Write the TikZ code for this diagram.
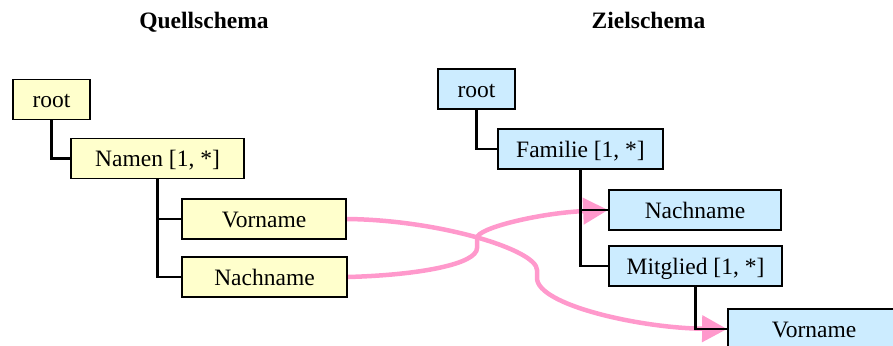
\documentclass[tikz,border=0pt]{standalone}
\usepackage{fontspec}
\setmainfont{Liberation Serif}
\usetikzlibrary{arrows.meta,backgrounds}
\definecolor{srcfill}{HTML}{FFFFCC}
\definecolor{tgtfill}{HTML}{CCECFF}
\definecolor{mappink}{HTML}{FF99CC}
\begin{document}
\begin{tikzpicture}[x=1pt,y=-1pt,
  box/.style={draw=black, line width=1.8pt, inner sep=0pt, minimum height=40pt,
    text height=16pt, text depth=0pt, font=\fontsize{23.5}{28}\selectfont},
  src/.style={box, fill=srcfill},
  tgt/.style={box, fill=tgtfill},
  tree/.style={draw=black, line width=2.2pt},
  map/.style={draw=mappink, line width=4.5pt, -{Triangle[length=25pt,width=26pt]}},
  title/.style={font=\bfseries\fontsize{23.5}{28}\selectfont, anchor=base}]
\useasboundingbox (0,0) rectangle (893,345);
\clip (0,0) rectangle (893,345);

\node[title] (qtitle) at (204,29) {Quellschema};
\node[title] (ztitle) at (648.5,29) {Zielschema};

\node[src, minimum width=77pt] (lroot) at (51.5,99.5) {root};
\node[src, minimum width=173pt] (lnamen) at (157.5,158.5) {Namen [1, *]};
\node[src, minimum width=164pt] (lvor) at (264,219) {Vorname};
\node[src, minimum width=165pt] (lnach) at (264.5,277) {Nachname};

\node[tgt, minimum width=77pt] (rroot) at (476.5,89) {root};
\node[tgt, minimum width=165pt] (rfam) at (580.5,149) {Familie [1, *]};
\node[tgt, minimum width=172pt] (rnach) at (695,210) {Nachname};
\node[tgt, minimum width=173pt] (rmit) at (695.5,266) {Mitglied [1, *]};
\node[tgt, minimum width=172pt] (rvor) at (814,329) {Vorname};

\begin{scope}[on background layer]
  \path[map] (lvor.east) .. controls (440,220) and (537,250) .. (537,270)
     -- (537,278) .. controls (537,305) and (640,328) .. (rvor.west);
  \path[map] (lnach.east) .. controls (420,275) and (477,264) .. (477,248)
     -- (477,238) .. controls (477,228) and (540,213) .. (rnach.west);
  \draw[tree] (lroot.south) |- (lnamen.west);
  \draw[tree] (lnamen.south) |- (lvor.west);
  \draw[tree] (lnamen.south) |- (lnach.west);
  \draw[tree] (rroot.south) |- (rfam.west);
  \draw[tree] (rfam.south) |- (rnach.west);
  \draw[tree] (rfam.south) |- (rmit.west);
  \draw[tree] (rmit.south) |- (rvor.west);
\end{scope}
\end{tikzpicture}
\end{document}
